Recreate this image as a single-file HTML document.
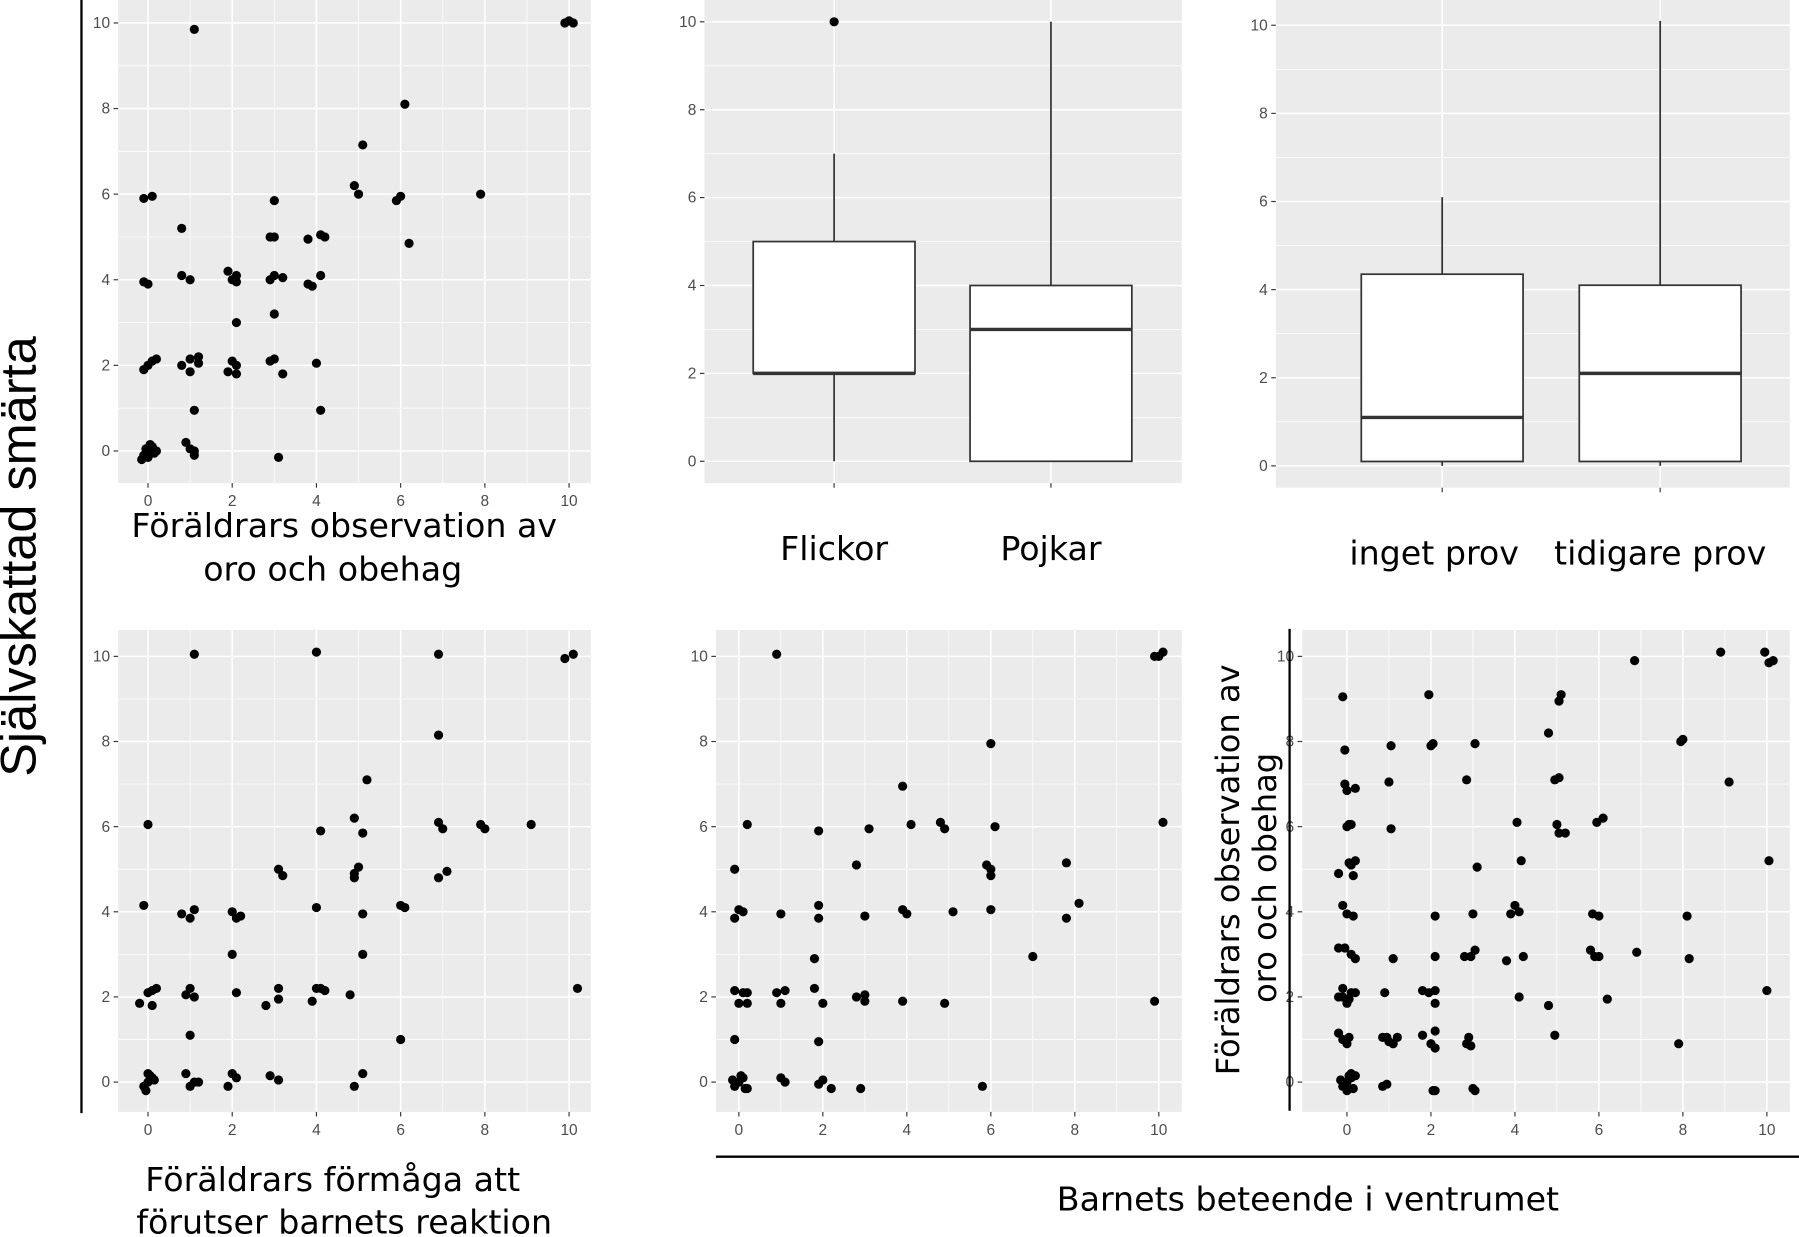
<!DOCTYPE html>
<html><head><meta charset="utf-8"><style>
html,body{margin:0;padding:0;background:#fff;width:1799px;height:1237px;overflow:hidden}
svg{display:block}
.tk{font-family:"Liberation Sans",sans-serif;font-size:13.5px;fill:#4d4d4d}
.tt{font-family:"DejaVu Sans","Liberation Sans",sans-serif;font-size:29px;fill:#000}
</style></head><body>
<svg id="fig" width="1799" height="1237" viewBox="0 0 1568 1078" preserveAspectRatio="none" xmlns="http://www.w3.org/2000/svg">
<g id="root"></g>
<line x1="71" y1="0" x2="71" y2="970" stroke="#000" stroke-width="2"/>
<line x1="1124" y1="548" x2="1124" y2="968" stroke="#000" stroke-width="2"/>
<line x1="624" y1="1008" x2="1568" y2="1008" stroke="#000" stroke-width="2"/>
<text x="31" y="485" transform="rotate(-90 31 485)" text-anchor="middle" style="font-family:'Liberation Sans',sans-serif;font-size:44px">Självskattad smärta</text>
<text class="tt" x="300" y="468" text-anchor="middle">Föräldrars observation av</text>
<text class="tt" x="290" y="506" text-anchor="middle">oro och obehag</text>
<text class="tt" x="290" y="1038" text-anchor="middle">Föräldrars förmåga att</text>
<text class="tt" x="300" y="1075" text-anchor="middle">förutser barnets reaktion</text>
<text class="tt" x="1140" y="1055" text-anchor="middle">Barnets beteende i ventrumet</text>
<text class="tt" x="1080" y="758" transform="rotate(-90 1080 758)" text-anchor="middle" style="font-size:28px">Föräldrars observation av</text>
<text class="tt" x="1112" y="765" transform="rotate(-90 1112 765)" text-anchor="middle" style="font-size:28px">oro och obehag</text>
</svg>
<script>
const yTicks=[0,2,4,6,8,10];
const xTicks=[0,2,4,6,8,10];
const p1x=[0,0.1,-0.1,0.05,0.15,-0.15,0,0.1,-0.05,0.2,1,1.1,0.9,1.1,3.1,1.1,4.1,-0.1,0,0.1,0.2,0.8,1,1,1.2,1.2,1.9,2,2.1,2.1,2.9,3,3.2,4,-0.1,0,0.8,1,1.9,2,2.1,2.1,2.1,2.9,3,3.2,3.8,3.9,4.1,3,-0.1,0.1,0.8,3,2.9,3,3.8,4.1,4.2,4.9,5,5.1,5.9,6,6.1,6.2,7.9,1.1,9.9,10,10.1];
const p1y=[0,0.1,-0.1,0.15,-0.05,-0.2,-0.15,0.1,0.05,0,0.05,-0.1,0.2,0,-0.15,0.95,0.95,1.9,2,2.1,2.15,2,1.85,2.15,2.2,2.05,1.85,2.1,1.8,2,2.1,2.15,1.8,2.05,3.95,3.9,4.1,4,4.2,4,4.1,3.95,3,4,4.1,4.05,3.9,3.85,4.1,3.2,5.9,5.95,5.2,5.85,5,5,4.95,5.05,5,6.2,6,7.15,5.85,5.95,8.1,4.85,6,9.85,10,10.05,10];
const p4x=[0,0.1,-0.1,0.05,0.15,-0.05,0,0.9,1.1,1,1.2,1.9,2,2.1,2.9,3.1,4.9,5.1,1,6,-0.2,0,0.1,0.1,0.2,0.9,1,1.1,2.1,2.8,3.1,3.1,3.9,4,4.1,4.2,4.8,10.2,2,5.1,-0.1,0.8,1,1.1,2,2.1,2.2,4,5.1,6,6.1,3.1,3.2,4.9,5,4.9,4.1,4.9,5.1,6.9,7.1,0,6.9,7,7.9,8,9.1,5.2,6.9,1.1,4,6.9,9.9,10.1];
const p4y=[0,0.1,-0.1,0.15,0.05,-0.2,0.2,0.2,0,-0.1,0,-0.1,0.2,0.1,0.15,0.05,-0.1,0.2,1.1,1,1.85,2.1,2.15,1.8,2.2,2.05,2.2,2,2.1,1.8,1.95,2.2,1.9,2.2,2.2,2.15,2.05,2.2,3,3,4.15,3.95,3.85,4.05,4,3.85,3.9,4.1,3.95,4.15,4.1,5,4.85,4.9,5.05,4.8,5.9,6.2,5.85,4.8,4.95,6.05,6.1,5.95,6.05,5.95,6.05,7.1,8.15,10.05,10.1,10.05,9.95,10.05];
const p5x=[0,0.1,-0.1,0.05,0.15,-0.15,0.2,1,1.1,1.9,2,2.2,2.9,5.8,-0.1,1.9,-0.1,0,0.1,0.2,0.2,0.9,1,1.1,1.8,2,2.8,3,3,3.9,4.9,9.9,1.8,7,-0.1,0,0.1,1,1.9,1.9,3,3.9,4,5.1,6,7.8,8.1,-0.1,2.8,5.9,6,6,7.8,0.2,1.9,3.1,4.1,4.8,4.9,6.1,10.1,3.9,6,0.9,9.9,10,10.1];
const p5y=[0,0.1,-0.1,0.15,-0.15,0.05,-0.15,0.1,0,-0.05,0.05,-0.15,-0.15,-0.1,1,0.95,2.15,1.85,2.1,1.85,2.1,2.1,1.85,2.15,2.2,1.85,2,2.05,1.9,1.9,1.85,1.9,2.9,2.95,3.85,4.05,4,3.95,4.15,3.85,3.9,4.05,3.95,4,4.05,3.85,4.2,5,5.1,5.1,5,4.85,5.15,6.05,5.9,5.95,6.05,6.1,5.95,6,6.1,6.95,7.95,10.05,10,10,10.1];
const p6x=[-0.1,-0.05,-0.05,0,0.2,0,0.05,0.1,0.05,0.1,0.2,-0.2,0.15,-0.1,0,0.15,1,1.05,1.05,1.95,2,2.05,2.1,3.05,2.85,3.1,3,3.9,4,4.1,4.05,4.15,4.8,4.95,5.05,5.1,5.05,5,5.05,5.2,5.95,6.1,5.85,6,6.85,7.95,8,8.1,8.9,9.1,9.95,10.05,10.15,10.05,-0.2,-0.05,0.1,0.2,1.1,2.1,2.8,2.95,3.05,3.8,4.2,5.8,5.9,6,6.9,8.15,-0.1,0.1,0.2,-0.2,-0.1,0,0.05,0.9,1.8,1.95,2.1,2.1,4.1,4.8,6.2,10,-0.2,-0.1,0.05,0,0.85,0.95,1,1.1,1.2,1.8,2.1,2,2.1,2.9,2.85,2.95,4.95,7.9,0,0.1,-0.1,0.05,0.15,-0.15,0.2,0,0.1,-0.05,0.85,0.95,2.05,2.1,3,3.05];
const p6y=[9.05,7.8,7,6.85,6.9,6,6.05,6.05,5.15,5.1,5.2,4.9,4.85,4.15,3.95,3.9,7.05,7.9,5.95,9.1,7.9,7.95,3.9,7.95,7.1,5.05,3.95,3.95,4.15,4,6.1,5.2,8.2,7.1,7.15,9.1,8.95,6.05,5.85,5.85,6.1,6.2,3.95,3.9,9.9,8,8.05,3.9,10.1,7.05,10.1,9.85,9.9,5.2,3.15,3.15,3,2.9,2.9,2.95,2.95,2.95,3.1,2.85,2.95,3.1,2.95,2.95,3.05,2.9,2.2,2.1,2.1,2,2,1.85,1.95,2.1,2.15,2.1,2.15,1.85,2,1.8,1.95,2.15,1.15,1,1.05,0.9,1.05,1.05,0.95,0.9,1.05,1.1,1.2,0.9,0.8,1.05,0.9,0.85,1.1,0.9,0,0.1,-0.1,0.15,-0.15,0.05,0.15,-0.2,0.2,-0.05,-0.1,-0.05,-0.2,-0.2,-0.15,-0.2];
const boxCats1=["Flickor","Pojkar"];
const boxMin1=[0,0], boxQ1_1=[2,0], boxMed1=[2,3], boxQ3_1=[5,4], boxMax1=[7,10];
const outX1=["Flickor"], outY1=[10];
const boxCats2=["inget prov","tidigare prov"];
const boxMin2=[0,0], boxQ1_2=[0.1,0.1], boxMed2=[1.1,2.1], boxQ3_2=[4.35,4.1], boxMax2=[6.1,10.1];

const NS="http://www.w3.org/2000/svg";
const root=document.getElementById('root');
function mk(t,a,p){const e=document.createElementNS(NS,t);for(const k in a)e.setAttribute(k,a[k]);(p||root).appendChild(e);return e;}
function scale(d0,d1,r0,r1){return v=>r0+(v-d0)*(r1-r0)/(d1-d0);}

function frame(name,x0,x1,y0,y1,sy,sx,hasX){
  const g=mk('g',{});
  
  
  const bg=mk('rect',{x:x0,y:y0,width:x1-x0,height:y1-y0,fill:'#ebebeb'},g);
  
  
  for(let v=1;v<=9;v+=2){mk('line',{x1:x0,x2:x1,y1:sy(v),y2:sy(v),stroke:'#fff','stroke-width':0.6},g);
    if(hasX)mk('line',{y1:y0,y2:y1,x1:sx(v),x2:sx(v),stroke:'#fff','stroke-width':0.6},g);}
  yTicks.forEach(v=>{mk('line',{x1:x0,x2:x1,y1:sy(v),y2:sy(v),stroke:'#fff','stroke-width':1.3},g);
    mk('line',{x1:x0-4,x2:x0,y1:sy(v),y2:sy(v),stroke:'#333','stroke-width':1},g);
    const t=mk('text',{x:x0-7,y:sy(v)+4.5,'text-anchor':'end',class:'tk'},g);t.textContent=v;
    
    });
  if(hasX)xTicks.forEach(v=>{mk('line',{y1:y0,y2:y1,x1:sx(v),x2:sx(v),stroke:'#fff','stroke-width':1.3},g);
    mk('line',{y1:y1,y2:y1+4,x1:sx(v),x2:sx(v),stroke:'#333','stroke-width':1},g);
    const t=mk('text',{x:sx(v),y:y1+20,'text-anchor':'middle',class:'tk'},g);t.textContent=v;
    
    });
  return g;
}
function scatter(name,x0,x1,y0,y1,xa,xb,ya,yb,xs,ys){
  const sx=scale(0,10,xa,xb), sy=scale(0,10,ya,yb);
  const g=frame(name,x0,x1,y0,y1,sy,sx,true);
  xs.forEach((v,i)=>{const c=mk('circle',{cx:sx(v),cy:sy(ys[i]),r:4,fill:'#000'},g);
    
    });
}
function boxes(name,x0,x1,y0,y1,ya,yb,cats,cx,lx,mn,q1,md,q3,mx,ox,oy){
  const sy=scale(0,10,ya,yb);
  const g=frame(name,x0,x1,y0,y1,sy,null,false);
  cats.forEach((c,i)=>{const x=cx[i];
    mk('line',{x1:x,x2:x,y1:y0,y2:y1,stroke:'#fff','stroke-width':1.3},g);
    mk('line',{x1:x,x2:x,y1:y1,y2:y1+4,stroke:'#333','stroke-width':1},g);
    mk('line',{x1:x,x2:x,y1:sy(mx[i]),y2:sy(mn[i]),stroke:'#333','stroke-width':1.5},g);
    const b=mk('rect',{x:x-70.5,y:sy(q3[i]),width:141,height:sy(q1[i])-sy(q3[i]),fill:'#fff',stroke:'#333','stroke-width':1.5},g);
    
    
    mk('line',{x1:x-70.5,x2:x+70.5,y1:sy(md[i]),y2:sy(md[i]),stroke:'#333','stroke-width':3},g);
    const t=mk('text',{x:x+lx[i],y:y1+67,'text-anchor':'middle',class:'tt'},g);t.textContent=c;
    
    });
  ox.forEach((c,j)=>{const i=cats.indexOf(c);const o=mk('circle',{cx:cx[i],cy:sy(oy[j]),r:4,fill:'#000'},g);
    
    });
}
scatter('panel1-scatter',103,515,0,421,129,496,393,20,p1x,p1y);
boxes('panel2-boxplot',614,1030,0,421,402,19,boxCats1,[727,916],[0,0],boxMin1,boxQ1_1,boxMed1,boxQ3_1,boxMax1,outX1,outY1);
boxes('panel3-boxplot',1112,1560,0,425,406,22,boxCats2,[1257,1447],[-7,0],boxMin2,boxQ1_2,boxMed2,boxQ3_2,boxMax2,[],[]);
scatter('panel4-scatter',103,515,549,969,129,496,943,572,p4x,p4y);
scatter('panel5-scatter',624,1030,549,969,644,1010,943,572,p5x,p5y);
scatter('panel6-scatter',1135,1560,549,969,1174,1540,943,572,p6x,p6y);
</script>
</body></html>
